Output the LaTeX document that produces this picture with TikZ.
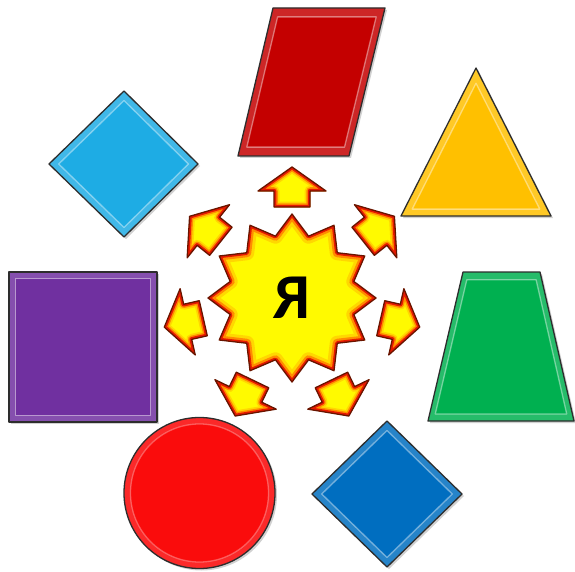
\documentclass[tikz,border=0pt]{standalone}
\usepackage{fontspec}
\newfontfamily\carlito{Carlito}
\usetikzlibrary{calc}
\definecolor{parred}{RGB}{196,0,0}
\definecolor{triyel}{RGB}{255,192,0}
\definecolor{cyand}{RGB}{30,172,228}
\definecolor{purp}{RGB}{112,48,160}
\definecolor{grn}{RGB}{0,176,80}
\definecolor{circred}{RGB}{250,12,12}
\definecolor{blued}{RGB}{0,110,192}
\definecolor{edgec}{RGB}{45,45,45}
\definecolor{sunyel}{RGB}{255,250,0}
\definecolor{sunlt}{RGB}{255,215,0}
\definecolor{sunorg}{RGB}{255,140,0}
\definecolor{sunred}{RGB}{230,25,0}
\definecolor{sunedge}{RGB}{105,20,0}
\tikzset{
  outline/.style={draw=edgec, line width=1.3pt, line join=round},
  shade/.style={fill=black, opacity=0.18},
  hilite/.style={draw=white, opacity=0.42, line width=1.3pt, line join=round},
  sunline/.style={draw=sunedge, line width=1.3pt, line join=round},
}
% glossy polygon: #1 colour, #2 centre, #3 inset scale, #4 path
\newcommand\glossyshape[4]{%
  \fill[shade, shift={(2,2)}] #4;
  \fill[#1!85!white] #4;
  \fill[#1, scale around={#3:#2}] #4;
  \draw[hilite, scale around={#3:#2}] #4;
  \draw[outline] #4;
}
\newcommand\sunpath{(0,-84) \foreach \i in {1,...,23}{ -- ({-90+15*\i}:{84-20*mod(\i,2)}) } -- cycle}
\newcommand\arrowpath{(131,0) -- (107,34) -- (107,18) -- (91,18) -- (91,-18) -- (107,-18) -- (107,-34) -- cycle}
\begin{document}
\begin{tikzpicture}[x=1pt,y=-1pt]
\useasboundingbox (0,0) rectangle (575,572);
\fill[white] (0,0) rectangle (575,572);

% red parallelogram
\glossyshape{parred}{(311.5,82)}{0.88}{(273,8) -- (385,8) -- (349,156) -- (238,156) -- cycle}
% yellow triangle
\glossyshape{triyel}{(476,170)}{0.85}{(476,68) -- (551,216) -- (401,216) -- cycle}
% cyan diamond
\glossyshape{cyand}{(124,164)}{0.87}{(124,91) -- (198,164) -- (124,237) -- (49,164) -- cycle}
% purple square
\glossyshape{purp}{(83,347)}{0.91}{(9,272) -- (157,272) -- (157,422) -- (9,422) -- cycle}
% green trapezoid
\glossyshape{grn}{(501,350)}{0.9}{(463,272) -- (540,272) -- (574,421) -- (428,421) -- cycle}
% blue diamond
\glossyshape{blued}{(387,494)}{0.87}{(387,421) -- (462,494) -- (387,567) -- (312,494) -- cycle}
% red circle
\fill[shade] (201.5,495) circle (75.5);
\fill[circred!88!white] (199.5,493) circle (75.5);
\fill[circred] (199.5,493) circle (69);
\draw[hilite, opacity=0.3] (199.5,493) circle (69);
\draw[outline] (199.5,493) circle (75.5);

% star
\begin{scope}[shift={(292,298)}]
  \fill[sunyel] \sunpath;
  \begin{scope}
    \clip \sunpath;
    \draw[sunlt, line width=15pt, line join=round] \sunpath;
    \draw[sunorg, line width=9pt, line join=round] \sunpath;
    \draw[sunred, line width=4.5pt, line join=round] \sunpath;
  \end{scope}
  \draw[sunline] \sunpath;
\end{scope}

% arrows
\foreach \k in {0,...,6}{
  \begin{scope}[shift={(292,298)}, rotate={90+360/7*\k}]
    \fill[sunyel] \arrowpath;
    \begin{scope}
      \clip \arrowpath;
      \draw[sunlt, line width=11pt, line join=round] \arrowpath;
      \draw[sunorg, line width=7.5pt, line join=round] \arrowpath;
      \draw[sunred, line width=4.5pt, line join=round] \arrowpath;
    \end{scope}
    \draw[sunline] \arrowpath;
  \end{scope}
}

\node (ya) at (292,298) {\carlito\bfseries\fontsize{64}{64}\selectfont Я};
\end{tikzpicture}
\end{document}
